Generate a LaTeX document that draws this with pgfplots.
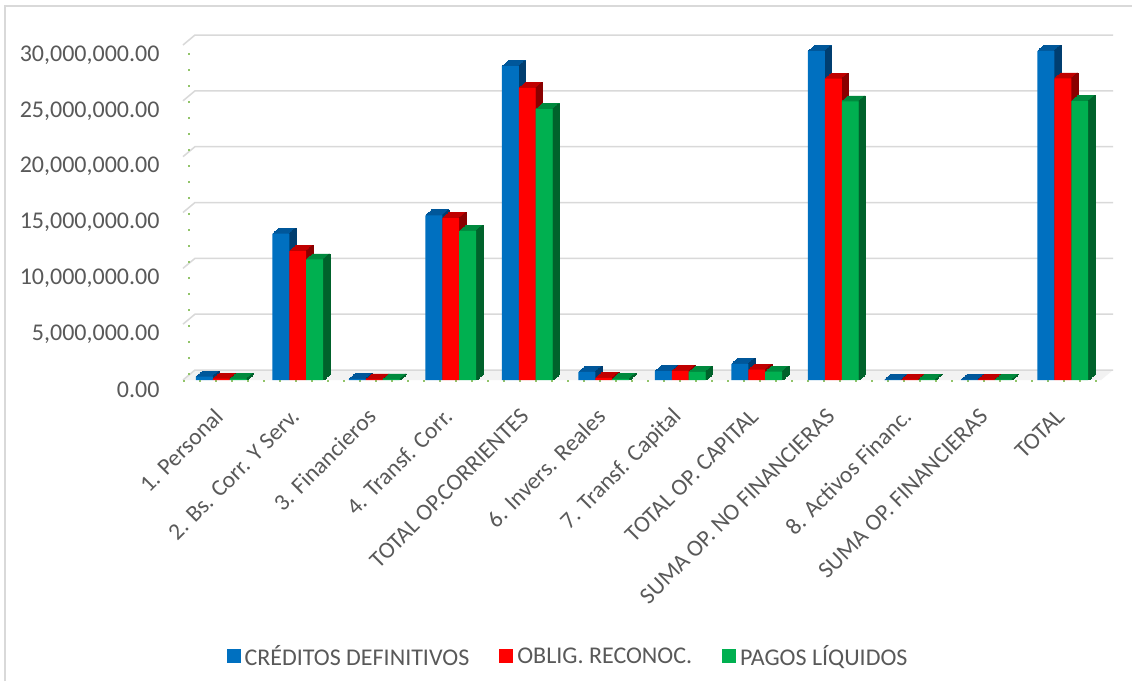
\documentclass[border=0pt]{standalone}
\usepackage{pgfplots}
\pgfplotsset{compat=1.18}
\usepackage{pgfplotstable}
\usepackage{fontspec}
\setmainfont{Carlito}

\definecolor{txt}{HTML}{595959}
\definecolor{gridc}{HTML}{D9D9D9}
\definecolor{floorc}{HTML}{F2F2F2}
\definecolor{dotg}{HTML}{92C46A}
\definecolor{bfront}{HTML}{0070C0}
\definecolor{btop}{HTML}{00579A}
\definecolor{bside}{HTML}{003E70}
\definecolor{rfront}{HTML}{FF0000}
\definecolor{rtop}{HTML}{C00000}
\definecolor{rside}{HTML}{8A0000}
\definecolor{gfront}{HTML}{00B050}
\definecolor{gtop}{HTML}{008A3E}
\definecolor{gside}{HTML}{00622B}

% budget execution by chapter (euros)
\pgfplotstableread{
i  cred      oblig     pagos
0  300000    120000    100000
1  13100000  11550000  10800000
2  100000    50000     50000
3  14750000  14500000  13350000
4  28100000  26150000  24250000
5  720000    180000    100000
6  800000    800000    720000
7  1450000   920000    750000
8  29450000  26980000  24950000
9  30000     30000     30000
10 30000     30000     30000
11 29480000  27010000  24980000
}\datatable

% depth step of the extruded boxes
\def\dx{0.8125}
\def\dy{0.6875}

% #1 column, #2 bar shift, #3 right edge, #4 front, #5 top, #6 side, #7 legend text
\newcommand\boxseries[7]{%
  \pgfplotsinvokeforeach{1,...,8}{%
    \addplot[forget plot, fill=#5, draw=#5, line width=0.6pt, bar shift=#2,
      xshift=##1*\dx pt, yshift=##1*\dy pt] table[x=i, y=#1] \datatable;
  }
  \pgfplotsinvokeforeach{1,...,8}{%
    \addplot[forget plot, fill=#6, draw=#6, line width=0.2pt, bar width=0.95pt, bar shift=#3,
      xshift=(##1-0.5)*\dx pt, yshift=##1*\dy pt] table[x=i, y=#1] \datatable;
  }
  \addplot[fill=#4, draw=none, bar shift=#2] table[x=i, y=#1] \datatable;
  \addlegendentry{#7}
}

\begin{document}
\begin{tikzpicture}
\useasboundingbox (0,0) rectangle (1132pt,681pt);
\fill[white] (0,0) rectangle (1132pt,681pt);
\draw[gridc, line width=1.5pt] (5pt,0) -- (5pt,675pt) -- (1132pt,675pt);
\begin{axis}[
  at={(183pt,301pt)}, anchor=south west,
  width=918pt, height=335pt, scale only axis,
  clip=false,
  xmin=-0.5, xmax=11.5,
  ymin=0, ymax=30000000,
  ybar, bar width=0.222,
  axis line style={draw=none},
  tick style={draw=none},
  xtick={0,...,11},
  xticklabels={1. Personal, 2. Bs. Corr. Y Serv., 3. Financieros, 4. Transf. Corr.,
    TOTAL OP.CORRIENTES, 6. Invers. Reales, 7. Transf. Capital, TOTAL OP. CAPITAL,
    SUMA OP. NO FINANCIERAS, 8. Activos Financ., SUMA OP. FINANCIERAS, TOTAL},
  xticklabel style={yshift=-26pt, rotate=45, anchor=east,
    font=\fontsize{23.5}{28}\selectfont, text=txt},
  ytick={0,5000000,10000000,15000000,20000000,25000000,30000000},
  scaled y ticks=false,
  yticklabel style={font=\fontsize{24}{28}\selectfont, text=txt,
    xshift=-20pt, yshift=-10pt,
    /pgf/number format/fixed, /pgf/number format/fixed zerofill,
    /pgf/number format/precision=2, /pgf/number format/1000 sep={,},
    /pgf/number format/assume math mode=true},
  legend columns=3,
  legend style={at={(0.4194,-0.824)}, anchor=center, draw=none, fill=none,
    font=\fontsize{24}{28}\selectfont, text=txt,
    /tikz/every even column/.append style={column sep=28pt},
    nodes={inner sep=2pt}},
  legend image code/.code={\fill[#1] (0pt,-7pt) rectangle (14pt,7pt); \path (16pt,0pt);},
]
% floor
\fill[floorc] (axis cs:-0.5,0) -- (axis cs:11.5,0) -- ++(12pt,10pt)
  -- ([shift={(12pt,10pt)}]axis cs:-0.5,0) -- cycle;
% back wall and side wall grid lines
\pgfplotsinvokeforeach{0,5000000,10000000,15000000,20000000,25000000,30000000}{
  \draw[gridc, line width=1.5pt] (axis cs:-0.5,#1) -- ++(12pt,10pt)
    -- ([shift={(12pt,10pt)}]axis cs:11.5,#1);
}
% dotted axis lines
\draw[dotg, line width=1.6pt, dash pattern=on 1.6pt off 14.4pt]
  ([shift={(6pt,5pt)}]axis cs:-0.5,0) -- ([shift={(6pt,5pt)}]axis cs:-0.5,30000000);
\draw[dotg, line width=1.6pt, dash pattern=on 1.6pt off 14.4pt]
  ([yshift=-1pt]axis cs:-0.5,0) -- ([yshift=-1pt]axis cs:11.5,0);

\boxseries{cred}{-0.222}{-0.111}{bfront}{btop}{bside}{CRÉDITOS DEFINITIVOS}
\boxseries{oblig}{0}{0.111}{rfront}{rtop}{rside}{OBLIG. RECONOC.}
\boxseries{pagos}{0.222}{0.333}{gfront}{gtop}{gside}{PAGOS LÍQUIDOS}
\end{axis}
\end{tikzpicture}
\end{document}
